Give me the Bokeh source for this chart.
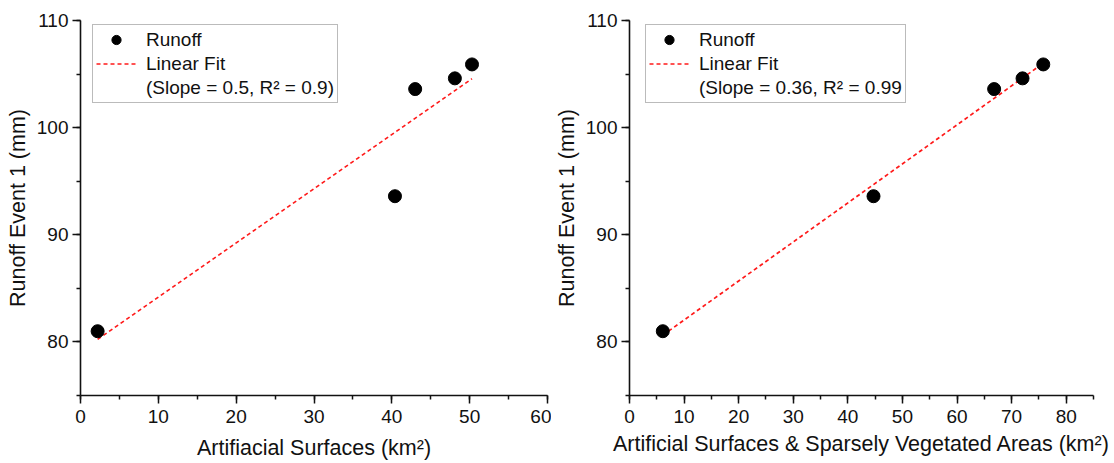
import numpy as np
from bokeh.plotting import figure
from bokeh.layouts import row
from bokeh.models import Legend, LegendItem, SingleIntervalTicker, Range1d
from bokeh.embed import file_html
from bokeh.resources import INLINE

# ---- data ----
runoff = [81.0, 93.6, 103.6, 104.6, 105.9]
artificial = [2.2, 40.4, 43.0, 48.1, 50.3]
artificial_sparse = [6.1, 44.7, 66.8, 72.0, 75.8]
fit_label_left = "(Slope = 0.5, R\u00b2 = 0.9)"
fit_label_right = "(Slope = 0.36, R\u00b2 = 0.99"
xlabel_left = "Artifiacial Surfaces (km\u00b2)"
xlabel_right = "Artificial Surfaces & Sparsely Vegetated Areas (km\u00b2)"
ylabel = "Runoff Event 1 (mm)"

FONT = "Liberation Sans"


def make(xs, ys, xmax, xlabel, fit_label, width, border_left, border_right, leg_x, title_standoff):
    p = figure(width=width, height=463, output_backend="svg", toolbar_location=None,
               x_range=Range1d(0, xmax), y_range=Range1d(75, 110),
               min_border_left=border_left, min_border_right=border_right,
               min_border_top=20, min_border_bottom=68)
    p.outline_line_color = None
    p.grid.visible = False
    p.background_fill_color = "white"
    p.border_fill_color = "white"

    p.xaxis.ticker = SingleIntervalTicker(interval=10, num_minor_ticks=2)
    p.yaxis.ticker = SingleIntervalTicker(interval=10, num_minor_ticks=2)
    for ax in (p.xaxis, p.yaxis):
        ax.axis_line_color = "#111111"
        ax.axis_line_width = 1.6
        ax.major_tick_line_color = "#111111"
        ax.minor_tick_line_color = "#111111"
        ax.major_tick_line_width = 1.5
        ax.minor_tick_line_width = 1.5
        ax.major_tick_out = 8
        ax.major_tick_in = 0
        ax.minor_tick_out = 4
        ax.minor_tick_in = 0
        ax.major_label_text_font = FONT
        ax.major_label_text_font_size = "19px"
        ax.major_label_text_color = "#111111"
        ax.axis_label_text_font = FONT
        ax.axis_label_text_font_size = "21.5px"
        ax.axis_label_text_font_style = "normal"
        ax.axis_label_text_color = "#111111"
    p.xaxis.major_label_standoff = 6
    p.yaxis.major_label_standoff = 4
    p.xaxis.axis_label = xlabel
    p.yaxis.axis_label = ylabel
    p.xaxis.axis_label_standoff = title_standoff
    p.yaxis.axis_label_standoff = 4

    xa = np.array(xs)
    ya = np.array(ys)
    slope, intercept = np.polyfit(xa, ya, 1)
    fx = np.array([xa.min(), xa.max()])
    fy = slope * fx + intercept

    line_r = p.line(fx, fy, line_color="#ff1a1a", line_width=1.7, line_dash="4 3")
    pts = p.scatter(xs, ys, size=13, fill_color="black", line_color="black", marker="circle")
    blank = p.line([], [], line_alpha=0)

    legend = Legend(items=[
        LegendItem(label="Runoff", renderers=[pts]),
        LegendItem(label="Linear Fit", renderers=[line_r]),
        LegendItem(label=fit_label, renderers=[blank]),
    ], location=(leg_x, 292))
    legend.label_text_font = FONT
    legend.label_text_font_size = "19px"
    legend.label_text_color = "#111111"
    legend.glyph_width = 40
    legend.glyph_height = 23
    legend.spacing = 1
    legend.padding = 3
    legend.margin = 0
    legend.label_standoff = 10
    legend.border_line_color = "#777777"
    legend.border_line_width = 1.2
    legend.background_fill_color = "white"
    legend.background_fill_alpha = 1
    p.add_layout(legend, "center")
    return p


p1 = make(artificial, runoff, 60, xlabel_left, fit_label_left, 551, 80, 4, 12, 10)
p2 = make(artificial_sparse, runoff, 85, xlabel_right, fit_label_right, 563, 76, 21, 16, 6)

layout = row(p1, p2)
open("out.html", "w").write(file_html(layout, INLINE))
